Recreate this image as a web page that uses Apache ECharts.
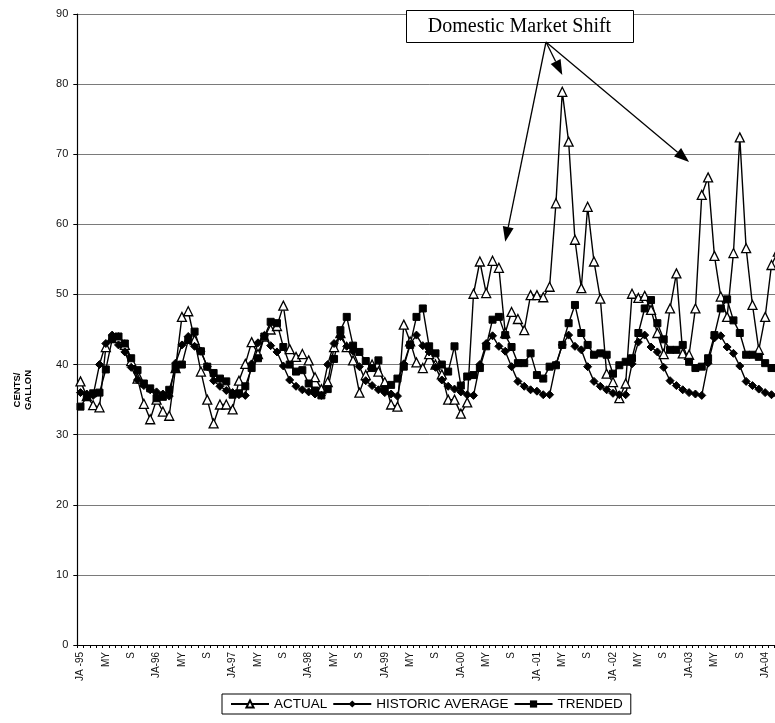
<!DOCTYPE html>
<html>
<head>
<meta charset="utf-8">
<script src="https://cdn.jsdelivr.net/npm/echarts@6/dist/echarts.min.js"></script>
<style>
html,body{margin:0;padding:0;background:#fff;overflow:hidden;}
#chart{width:800px;height:723px;}
</style>
</head>
<body>
<div id="chart"></div>
<script>
// Monthly series, January 1995 through March 2004 (cents per gallon)
const tickLabels = ['JA -95','MY','S','JA-96','MY','S','JA-97','MY','S','JA-98','MY','S',
  'JA-99','MY','S','JA-00','MY','S','JA -01','MY','S','JA -02','MY','S','JA-03','MY','S','JA-04'];

const actual = [
  37.6, 35.5, 34.2, 33.9, 42.5, 43.8, 43.8, 42.8, 40.5, 38.0, 34.4, 32.2,
  35.0, 33.3, 32.7, 39.5, 46.8, 47.6, 43.5, 39.0, 35.0, 31.6, 34.3, 34.3,
  33.6, 37.7, 40.1, 43.2, 41.5, 44.0, 45.0, 45.5, 48.4, 42.2, 41.1, 41.5,
  40.6, 38.2, 36.5, 37.5, 42.5, 44.5, 42.5, 40.6, 36.0, 38.5, 40.0, 39.0,
  37.5, 34.3, 34.0, 45.7, 43.3, 40.3, 39.5, 41.5, 40.0, 38.6, 35.0, 35.0,
  33.0, 34.6, 50.1, 54.7, 50.2, 54.8, 53.8, 44.5, 47.5, 46.5, 44.9, 49.9,
  49.9, 49.6, 51.1, 63.0, 78.9, 71.8, 57.8, 50.9, 62.5, 54.7, 49.4, 38.7,
  37.5, 35.2, 37.3, 50.1, 49.5, 49.8, 47.8, 44.5, 41.5, 48.0, 53.0, 41.6,
  41.4, 48.0, 64.2, 66.7, 55.5, 49.7, 46.8, 55.9, 72.4, 56.6, 48.5, 42.1,
  46.8, 54.2, 56.1
];

const historic = [
  36.0, 35.8, 35.6, 40.0, 43.0, 44.2, 42.8, 41.8, 39.6, 37.8, 37.0, 36.4,
  36.1, 35.8, 35.5, 40.2, 42.8, 44.0, 42.6, 41.9, 39.7, 37.7, 36.9, 36.3,
  36.0, 35.7, 35.6, 40.1, 43.1, 44.1, 42.7, 41.8, 39.8, 37.8, 36.9, 36.4,
  36.1, 35.8, 35.6, 40.0, 43.0, 44.0, 42.6, 41.9, 39.7, 37.7, 37.0, 36.4,
  36.0, 35.8, 35.5, 40.1, 42.9, 44.2, 42.7, 41.8, 39.6, 37.8, 36.9, 36.5,
  36.1, 35.7, 35.6, 40.0, 43.0, 44.1, 42.6, 41.9, 39.7, 37.6, 36.9, 36.4,
  36.2, 35.7, 35.7, 40.0, 42.8, 44.2, 42.6, 42.1, 39.7, 37.6, 36.9, 36.4,
  35.9, 35.7, 35.7, 40.1, 43.2, 44.2, 42.5, 41.8, 39.6, 37.7, 37.0, 36.4,
  36.0, 35.8, 35.6, 40.2, 43.8, 44.1, 42.5, 41.6, 39.8, 37.6, 37.0, 36.5,
  36.0, 35.7, 35.6
];

const trended = [
  34.0, 35.4, 35.9, 36.0, 39.3, 43.6, 44.0, 43.0, 40.9, 39.2, 37.3, 36.6,
  35.2, 35.4, 36.4, 39.5, 40.0, 43.5, 44.7, 41.9, 39.7, 38.8, 38.0, 37.6,
  35.7, 35.9, 36.9, 39.5, 40.9, 44.0, 46.1, 45.9, 42.5, 40.0, 39.0, 39.2,
  37.3, 36.3, 35.6, 36.5, 40.8, 44.9, 46.8, 42.7, 41.8, 40.5, 39.5, 40.6,
  36.5, 37.1, 38.0, 39.7, 42.8, 46.8, 48.0, 42.6, 41.6, 40.0, 39.0, 42.6,
  37.0, 38.3, 38.5, 39.5, 42.6, 46.4, 46.8, 44.2, 42.5, 40.2, 40.2, 41.6,
  38.5, 38.0, 39.7, 39.9, 42.8, 45.9, 48.5, 44.5, 42.8, 41.4, 41.6, 41.4,
  38.7, 39.9, 40.4, 40.9, 44.5, 48.0, 49.2, 45.9, 43.6, 42.1, 42.1, 42.8,
  40.4, 39.5, 39.7, 40.9, 44.2, 48.0, 49.3, 46.3, 44.5, 41.4, 41.4, 41.1,
  40.2, 39.5, 39.5
];

// Arrow tips of the "Domestic Market Shift" callout, as [month index, cents]
const calloutTargets = [[66.6, 57.5], [76.0, 81.3], [96.0, 68.9]];

const months = [];
for (let i = 0; i < actual.length; i++) {
  const y = 1995 + Math.floor(i / 12), m = i % 12 + 1;
  months.push(y + '-' + (m < 10 ? '0' + m : m));
}

const chart = echarts.init(document.getElementById('chart'), null, {renderer: 'canvas'});
const sans = 'Liberation Sans, Arial, sans-serif';

// The canvas is wider than the page so the plot runs on past its right edge
const option = {
  animation: false,
  backgroundColor: '#fff',
  grid: {left: 77.3, top: 14, bottom: 78, width: 703.7},
  xAxis: {
    type: 'category',
    data: months,
    boundaryGap: true,
    axisLine: {lineStyle: {color: '#000', width: 1}},
    axisTick: {show: true, interval: 0, length: 3, lineStyle: {color: '#000'}},
    axisLabel: {
      interval: 3, rotate: 90, margin: 7, fontSize: 10, color: '#111', fontFamily: sans,
      formatter: function (v, idx) { return tickLabels[Math.round(idx / 4)] || ''; }
    },
    splitLine: {show: false}
  },
  yAxis: {
    type: 'value', min: 0, max: 90, interval: 10,
    axisLine: {show: true, lineStyle: {color: '#000', width: 1.2}},
    axisTick: {show: true, length: 4, lineStyle: {color: '#000'}},
    axisLabel: {fontSize: 11, color: '#111', margin: 9, fontFamily: sans},
    splitLine: {show: true, lineStyle: {color: '#7a7a7a', width: 1}}
  },
  legend: {
    left: 222, top: 694,
    itemWidth: 38, itemHeight: 9, itemGap: 5,
    padding: [3, 8, 3, 8],
    borderColor: '#000', borderWidth: 1,
    textStyle: {fontSize: 13.5, color: '#000', fontFamily: sans},
    data: ['ACTUAL', 'HISTORIC AVERAGE', 'TRENDED']
  },
  series: [
    {
      name: 'ACTUAL', type: 'line', data: actual,
      symbol: 'triangle', symbolSize: 9, showAllSymbol: true,
      lineStyle: {color: '#000', width: 1.4},
      itemStyle: {color: '#fff', borderColor: '#000', borderWidth: 1.3}
    },
    {
      name: 'HISTORIC AVERAGE', type: 'line', data: historic,
      symbol: 'diamond', symbolSize: 8, showAllSymbol: true,
      lineStyle: {color: '#000', width: 1.4},
      itemStyle: {color: '#000', borderColor: '#000'}
    },
    {
      name: 'TRENDED', type: 'line', data: trended,
      symbol: 'rect', symbolSize: 7, showAllSymbol: true,
      lineStyle: {color: '#000', width: 1.4},
      itemStyle: {color: '#000', borderColor: '#000'}
    }
  ]
};
chart.setOption(option);

// Callout box, arrows and the rotated y-axis title
const box = {x: 406, y: 10, w: 227, h: 32};
const tail = [box.x + 140, box.y + box.h];
const graphics = [
  {
    type: 'text', x: 23, y: 390, rotation: Math.PI / 2,
    style: {text: 'CENTS/\nGALLON', font: 'bold 9.5px ' + sans, fill: '#000',
            align: 'center', verticalAlign: 'middle', lineHeight: 11}
  },
  {
    type: 'rect', shape: {x: box.x + 0.5, y: box.y + 0.5, width: box.w, height: box.h},
    style: {fill: '#fff', stroke: '#000', lineWidth: 1}, z: 10
  },
  {
    type: 'text', x: box.x + box.w / 2, y: box.y + box.h / 2 + 1, z: 11,
    style: {text: 'Domestic Market Shift', font: '20px Liberation Serif, Times New Roman, serif',
            fill: '#000', align: 'center', verticalAlign: 'middle'}
  }
];
calloutTargets.forEach(function (t) {
  const tip = chart.convertToPixel({gridIndex: 0}, t);
  const dx = tip[0] - tail[0], dy = tip[1] - tail[1];
  const len = Math.sqrt(dx * dx + dy * dy);
  const ux = dx / len, uy = dy / len, px = -uy, py = ux;
  const hl = 15, hw = 5.5;
  const bx = tip[0] - ux * hl, by = tip[1] - uy * hl;
  graphics.push({
    type: 'line', z: 10,
    shape: {x1: tail[0], y1: tail[1], x2: bx, y2: by},
    style: {stroke: '#000', lineWidth: 1.3}
  });
  graphics.push({
    type: 'polygon', z: 10,
    shape: {points: [[tip[0], tip[1]], [bx + px * hw, by + py * hw], [bx - px * hw, by - py * hw]]},
    style: {fill: '#000'}
  });
});
chart.setOption({graphic: graphics});
</script>
</body>
</html>
